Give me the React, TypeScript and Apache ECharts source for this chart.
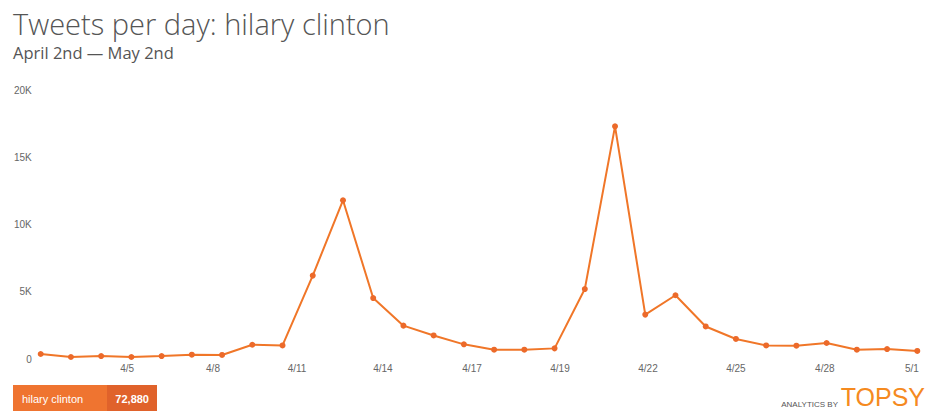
import React, { useEffect, useRef } from "react";
import * as echarts from "echarts";

// Day offsets from April 2nd (0 = 4/2, 29 = 5/1)
const days = [0,1,2,3,4,5,6,7,8,9,10,11,12,13,14,15,16,17,18,19,20,21,22,23,24,25,26,27,28,29];
const tweets = [370,150,220,150,220,320,300,1060,1010,6200,11800,4530,2480,1750,1090,690,690,790,5200,17300,3300,4740,2420,1490,1010,990,1190,690,740,600];
const tickLabels = ["4/5","4/8","4/11","4/14","4/17","4/19","4/22","4/25","4/28","5/1"];
const tickDays = [2.86,5.7,8.48,11.32,14.27,17.18,20.09,23.0,25.94,28.82];
const yTicks = [0, 5000, 10000, 15000, 20000];
const seriesName = "hilary clinton";
const totalLabel = "72,880";
const titleText = "Tweets per day: hilary clinton";
const subtitleText = "April 2nd — May 2nd";

export default function App() {
  const ref = useRef<HTMLDivElement>(null);
  useEffect(() => {
    if (!ref.current) return;
    const chart = echarts.init(ref.current, null, { renderer: "svg" });
    const orange = "#f07628";
    chart.setOption({
      animation: false,
      backgroundColor: "#ffffff",
      title: {
        text: titleText,
        subtext: subtitleText,
        left: 8,
        top: 3,
        itemGap: 5,
        textStyle: { fontFamily: "Open Sans", fontWeight: 300, fontSize: 29, color: "#555555", lineHeight: 30 },
        subtextStyle: { fontFamily: "Open Sans", fontSize: 16.5, color: "#555555", lineHeight: 18 },
      },
      grid: { left: 40.7, right: 9.7, top: 90, bottom: 52, containLabel: false },
      xAxis: {
        type: "value",
        min: 0,
        max: 29,
        axisLine: { show: false },
        axisTick: { show: false },
        splitLine: { show: false },
        axisLabel: {
          customValues: tickDays,
          margin: 4,
          fontFamily: "Liberation Sans",
          fontSize: 10,
          color: "#666666",
          formatter: (v: number) => {
            const i = tickDays.findIndex((d) => Math.abs(d - v) < 1e-6);
            return i >= 0 ? tickLabels[i] : "";
          },
        },
      },
      yAxis: {
        type: "value",
        min: 0,
        max: 20000,
        interval: 5000,
        axisLine: { show: false },
        axisTick: { show: false },
        splitLine: { show: false },
        axisLabel: {
          margin: 9,
          fontFamily: "Liberation Sans",
          fontSize: 10,
          color: "#666666",
          formatter: (v: number) => (yTicks.includes(v) ? (v === 0 ? "0" : v / 1000 + "K") : ""),
        },
      },
      series: [
        {
          name: seriesName,
          type: "line",
          data: days.map((d, i) => [d, tweets[i]]),
          symbol: "circle",
          symbolSize: 6,
          showSymbol: true,
          lineStyle: { color: orange, width: 2 },
          itemStyle: { color: "#ec6a2a" },
        },
      ],
      graphic: [
        {
          type: "group",
          left: 13,
          top: 385,
          children: [
            { type: "rect", shape: { x: 0, y: 0, width: 94, height: 30 }, style: { fill: "#ef7430" } },
            { type: "rect", shape: { x: 94, y: 0, width: 50, height: 30 }, style: { fill: "#e0622b" } },
            {
              type: "text",
              x: 9,
              y: 14,
              style: { text: seriesName, fill: "#ffffff", fontFamily: "Liberation Sans", fontSize: 11, verticalAlign: "middle" },
            },
            {
              type: "text",
              x: 136,
              y: 14,
              style: { text: totalLabel, fill: "#ffffff", fontFamily: "Liberation Sans", fontWeight: "bold", fontSize: 11, align: "right", verticalAlign: "middle" },
            },
          ],
        },
        {
          type: "text",
          x: 838,
          y: 404,
          style: { text: "ANALYTICS BY", fill: "#555555", fontFamily: "Liberation Sans", fontSize: 8, align: "right", verticalAlign: "middle" },
        },
        {
          type: "text",
          x: 925,
          y: 397,
          style: { text: "TOPSY", fill: "#f58a1f", fontFamily: "Liberation Sans", fontSize: 25, align: "right", verticalAlign: "middle" },
        },
      ],
    });
    return () => chart.dispose();
  }, []);
  return (
    <div
      ref={ref}
      style={{ position: "fixed", left: 0, top: 0, width: 927, height: 411, background: "#fff" }}
    />
  );
}
